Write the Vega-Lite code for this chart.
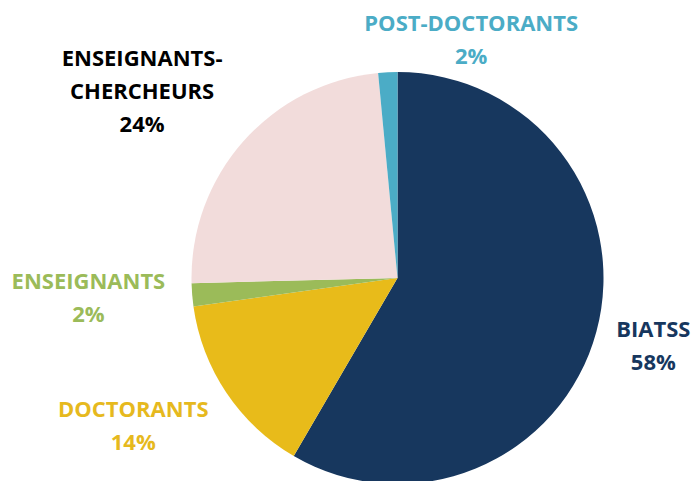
{
  "$schema": "https://vega.github.io/schema/vega-lite/v6.json",
  "autosize": {"type": "none"},
  "width": 595,
  "height": 400,
  "padding": {"left": 100, "top": 78, "right": 0, "bottom": 3},
  "background": "white",
  "config": {"view": {"stroke": null}},
  "data": {
    "values": [
      {"category": "BIATSS", "value": 58.4, "label": "BIATSS\n58%"},
      {"category": "DOCTORANTS", "value": 14.4, "label": "DOCTORANTS\n14%"},
      {"category": "ENSEIGNANTS", "value": 1.8, "label": "ENSEIGNANTS\n2%"},
      {"category": "ENSEIGNANTS-CHERCHEURS", "value": 23.9, "label": "ENSEIGNANTS-\nCHERCHEURS\n24%"},
      {"category": "POST-DOCTORANTS", "value": 1.5, "label": "POST-DOCTORANTS\n2%"}
    ]
  },
  "layer": [
    {
      "mark": {"type": "arc", "outerRadius": 206},
      "encoding": {
        "theta": {"field": "value", "type": "quantitative", "stack": true},
        "color": {
          "field": "category",
          "type": "nominal",
          "scale": {
            "domain": ["BIATSS", "DOCTORANTS", "ENSEIGNANTS", "ENSEIGNANTS-CHERCHEURS", "POST-DOCTORANTS"],
            "range": ["#17375e", "#e8bb1a", "#9bbb59", "#f2dcdb", "#4bacc6"]
          },
          "legend": null
        }
      }
    },
    {
      "mark": {"type": "text", "radius": 270, "align": "center", "baseline": "middle", "font": "Open Sans", "fontSize": 22, "fontWeight": "bold", "lineBreak": "\n", "lineHeight": 33, "dx": -40, "dy": -18},
      "encoding": {
        "theta": {"field": "value", "type": "quantitative", "stack": true},
        "color": {
          "field": "category",
          "type": "nominal",
          "scale": {
            "domain": ["BIATSS", "DOCTORANTS", "ENSEIGNANTS", "ENSEIGNANTS-CHERCHEURS", "POST-DOCTORANTS"],
            "range": ["#17375e", "#e6b91e", "#9bbb59", "#000000", "#4bacc6"]
          },
          "legend": null
        },
        "text": {
          "condition": {"test": "datum.category === 'DOCTORANTS' || datum.category === 'ENSEIGNANTS'", "field": "label"},
          "value": ""
        }
      }
    },
    {
      "mark": {"type": "text", "radius": 300, "align": "center", "baseline": "middle", "font": "Open Sans", "fontSize": 22, "fontWeight": "bold", "lineBreak": "\n", "lineHeight": 33, "dx": -31, "dy": -20},
      "encoding": {
        "theta": {"field": "value", "type": "quantitative", "stack": true},
        "color": {
          "field": "category",
          "type": "nominal",
          "scale": {
            "domain": ["BIATSS", "DOCTORANTS", "ENSEIGNANTS", "ENSEIGNANTS-CHERCHEURS", "POST-DOCTORANTS"],
            "range": ["#17375e", "#e6b91e", "#9bbb59", "#000000", "#4bacc6"]
          },
          "legend": null
        },
        "text": {
          "condition": {"test": "datum.category === 'ENSEIGNANTS-CHERCHEURS'", "field": "label"},
          "value": ""
        }
      }
    },
    {
      "mark": {"type": "text", "radius": 240, "align": "center", "baseline": "middle", "font": "Open Sans", "fontSize": 22, "fontWeight": "bold", "lineBreak": "\n", "lineHeight": 33, "dx": 85, "dy": -14},
      "encoding": {
        "theta": {"field": "value", "type": "quantitative", "stack": true},
        "color": {
          "field": "category",
          "type": "nominal",
          "scale": {
            "domain": ["BIATSS", "DOCTORANTS", "ENSEIGNANTS", "ENSEIGNANTS-CHERCHEURS", "POST-DOCTORANTS"],
            "range": ["#17375e", "#e6b91e", "#9bbb59", "#000000", "#4bacc6"]
          },
          "legend": null
        },
        "text": {
          "condition": {"test": "datum.category === 'POST-DOCTORANTS'", "field": "label"},
          "value": ""
        }
      }
    },
    {
      "mark": {"type": "text", "radius": 265, "align": "center", "baseline": "middle", "font": "Open Sans", "fontSize": 22, "fontWeight": "bold", "lineBreak": "\n", "lineHeight": 33, "dy": -17},
      "encoding": {
        "theta": {"field": "value", "type": "quantitative", "stack": true},
        "color": {
          "field": "category",
          "type": "nominal",
          "scale": {
            "domain": ["BIATSS", "DOCTORANTS", "ENSEIGNANTS", "ENSEIGNANTS-CHERCHEURS", "POST-DOCTORANTS"],
            "range": ["#17375e", "#e6b91e", "#9bbb59", "#000000", "#4bacc6"]
          },
          "legend": null
        },
        "text": {
          "condition": {"test": "datum.category === 'BIATSS'", "field": "label"},
          "value": ""
        }
      }
    }
  ],
  "resolve": {"scale": {"color": "independent"}}
}
